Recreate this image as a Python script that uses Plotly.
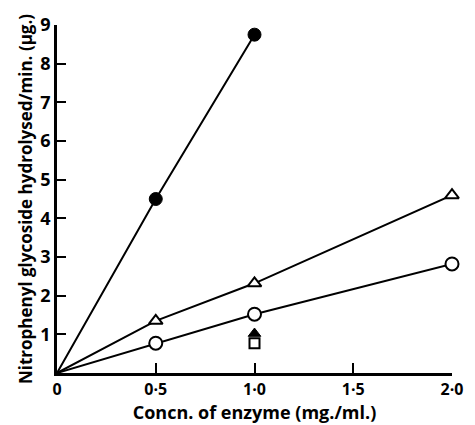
import plotly.graph_objects as go

# data
x_filled = [0, 0.5, 1.0]
y_filled = [0, 4.5, 8.75]
x_tri = [0, 0.5, 1.0, 2.0]
y_tri = [0, 1.35, 2.32, 4.6]
x_open = [0, 0.5, 1.0, 2.0]
y_open = [0, 0.77, 1.52, 2.82]
x_ftri = [1.0]
y_ftri = [1.02]
x_sq = [1.0]
y_sq = [0.77]
x_ticks = [0, 0.5, 1.0, 1.5, 2.0]
x_ticklabels = ["0", "0·5", "1·0", "1·5", "2·0"]
y_ticks = [1, 2, 3, 4, 5, 6, 7, 8, 9]
y_ticklabels = ["1", "2", "3", "4", "5", "6", "7", "8", "9"]

FONT = "Open Sans"
W = "bold"
fig = go.Figure()

def line_trace(x, y):
    return go.Scatter(x=x, y=y, mode="lines", line=dict(color="black", width=2),
                      showlegend=False, hoverinfo="skip")

fig.add_trace(line_trace(x_filled, y_filled))
fig.add_trace(line_trace(x_tri, y_tri))
fig.add_trace(line_trace(x_open, y_open))

fig.add_trace(go.Scatter(x=x_filled[1:], y=y_filled[1:], mode="markers",
                         marker=dict(symbol="circle", size=13, color="black",
                                     line=dict(color="black", width=1)),
                         showlegend=False, cliponaxis=False))
fig.add_trace(go.Scatter(x=x_tri[1:], y=y_tri[1:], mode="markers",
                         marker=dict(symbol="triangle-up", size=12, color="white",
                                     line=dict(color="black", width=2)),
                         showlegend=False, cliponaxis=False))
fig.add_trace(go.Scatter(x=x_open[1:], y=y_open[1:], mode="markers",
                         marker=dict(symbol="circle", size=13, color="white",
                                     line=dict(color="black", width=2)),
                         showlegend=False, cliponaxis=False))
fig.add_trace(go.Scatter(x=x_sq, y=y_sq, mode="markers",
                         marker=dict(symbol="square", size=10, color="white",
                                     line=dict(color="black", width=2)),
                         showlegend=False, cliponaxis=False))
fig.add_trace(go.Scatter(x=x_ftri, y=y_ftri, mode="markers",
                         marker=dict(symbol="triangle-up", size=11, color="black",
                                     line=dict(color="black", width=1)),
                         showlegend=False, cliponaxis=False))

fig.update_layout(
    width=475, height=425,
    margin=dict(l=57, r=14, t=15, b=45),
    plot_bgcolor="white", paper_bgcolor="white",
    font=dict(family=FONT, color="black", size=14),
    showlegend=False,
)
fig.update_xaxes(range=[0, 2.0], tickvals=x_ticks, ticktext=x_ticklabels,
                 ticks="inside", ticklen=10, tickwidth=2, tickcolor="black",
                 showline=True, linecolor="black", linewidth=2.5,
                 showgrid=False, zeroline=False,
                 tickfont=dict(family=FONT, size=16, weight=W),
                 title=dict(text="Concn. of enzyme (mg./ml.)",
                            font=dict(family=FONT, size=18, weight=W),
                            standoff=0))
fig.update_yaxes(range=[0, 9], tickvals=y_ticks, ticktext=y_ticklabels,
                 ticks="inside", ticklen=9, tickwidth=2, tickcolor="black",
                 showline=True, linecolor="black", linewidth=2.5,
                 showgrid=False, zeroline=False,
                 tickfont=dict(family=FONT, size=18, weight=W),
                 title=dict(text="Nitrophenyl glycoside hydrolysed/min. (μg.)",
                            font=dict(family=FONT, size=17, weight=W),
                            standoff=4))

fig.write_html("out.html")
